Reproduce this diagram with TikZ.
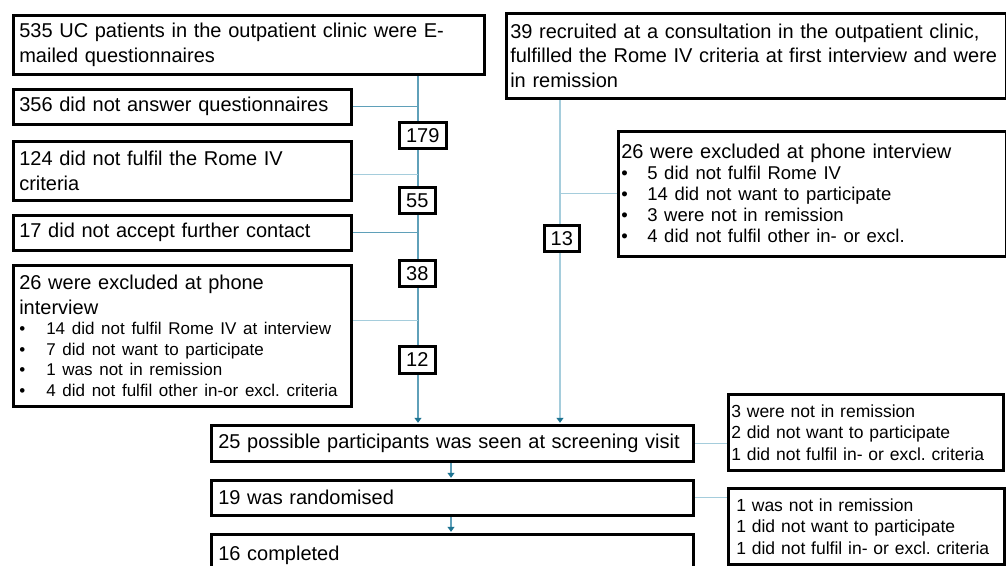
\documentclass[tikz,border=0pt]{standalone}
\usepackage{fontspec}
\setmainfont{Liberation Sans}
\frenchspacing
\usetikzlibrary{arrows.meta,backgrounds,calc}
\definecolor{trunkc}{RGB}{95,160,185}
\definecolor{lightc}{RGB}{165,205,220}
\definecolor{tipc}{RGB}{30,115,145}
\newcommand\bitem[2]{\makebox[#1][l]{\textbullet}#2}
\tikzset{
  box/.style={draw=black, line width=2.6pt, fill=white, anchor=north west,
    inner ysep=0pt, align=left, font=\fontsize{20}{24.5}\selectfont},
  numbox/.style={draw=black, line width=2.6pt, fill=white, anchor=north west,
    inner sep=0pt, font=\fontsize{20}{24}\selectfont},
  conn/.style={draw=trunkc, line width=1.3pt},
  lconn/.style={draw=lightc, line width=1.3pt},
  arr/.style={-{Triangle[width=7pt,length=5pt,color=tipc]}, shorten >=1.2pt}
}
\begin{document}
\begin{tikzpicture}[x=1pt,y=-1pt]
\useasboundingbox (0,0) rectangle (1006,565);
% left column
\node[box, minimum width=471pt, minimum height=59pt, text width=459pt, inner xsep=6pt] (A) at (12,14)
  {535 UC patients in the outpatient clinic were E-\\mailed questionnaires};
\node[box, minimum width=338pt, minimum height=35pt, text width=326pt, inner xsep=6pt] (B) at (12,88)
  {356 did not answer questionnaires};
\node[box, minimum width=338pt, minimum height=59pt, text width=326pt, inner xsep=6pt] (C) at (12,140)
  {124 did not fulfil the Rome IV\\criteria};
\node[box, minimum width=338pt, minimum height=35pt, text width=326pt, inner xsep=6pt] (D) at (12,214)
  {17 did not accept further contact};
\node[box, minimum width=338pt, minimum height=141pt, text width=326pt, inner xsep=6pt] (E) at (12,264)
  {{26 were excluded at phone\\interview\par}
   {\fontsize{17}{20.5}\selectfont
    \bitem{27pt}{14 did not fulfil Rome IV at interview}\\
    \bitem{27pt}{7 did not want to participate}\\
    \bitem{27pt}{1 was not in remission}\\
    \bitem{27pt}{4 did not fulfil other in-or excl. criteria}\par}};
% right column
\node[box, minimum width=500pt, minimum height=85pt, text width=492pt, inner xsep=4pt] (F) at (505,12)
  {39 recruited at a consultation in the outpatient clinic,\\fulfilled the Rome IV criteria at first interview and were\\in remission};
\node[box, minimum width=388pt, minimum height=125pt, text width=382pt, inner xsep=3pt] (G) at (617,130)
  {{26 were excluded at phone interview\par}
   {\fontsize{18.5}{21}\selectfont
    \bitem{26pt}{5 did not fulfil Rome IV}\\
    \bitem{26pt}{14 did not want to participate}\\
    \bitem{26pt}{3 were not in remission}\\
    \bitem{26pt}{4 did not fulfil other in- or excl.}\par}};
% bottom
\node[box, minimum width=482pt, minimum height=36pt, text width=468pt, inner xsep=7pt] (H) at (210,424)
  {25 possible participants was seen at screening visit};
\node[box, minimum width=482pt, minimum height=35pt, text width=468pt, inner xsep=7pt] (I) at (210,479)
  {19 was randomised};
\node[box, minimum width=482pt, minimum height=42pt, text width=468pt, inner xsep=7pt] (J) at (210,533)
  {16 completed};
\node[box, minimum width=275pt, minimum height=76pt, text width=269pt, inner xsep=3pt,
  font=\fontsize{17.5}{21.5}\selectfont] (L) at (727,393)
  {3 were not in remission\\2 did not want to participate\\1 did not fulfil in- or excl. criteria};
\node[box, minimum width=276pt, minimum height=76pt, text width=260pt, inner xsep=8pt,
  font=\fontsize{17.5}{21.5}\selectfont] (K) at (727,487)
  {1 was not in remission\\1 did not want to participate\\1 did not fulfil in- or excl. criteria};
% number boxes
\node[numbox, minimum width=47pt, minimum height=26pt] (n179) at (398,121) {179};
\node[numbox, minimum width=36pt, minimum height=26pt] (n55) at (398,186) {55};
\node[numbox, minimum width=36pt, minimum height=26pt] (n38) at (398,259) {38};
\node[numbox, minimum width=36pt, minimum height=27pt] (n12) at (398,345) {12};
\node[numbox, minimum width=35pt, minimum height=26pt] (n13) at (543,224) {13};
% connectors
\coordinate (tx) at (418,0);
\coordinate (rx) at (560,0);
\coordinate (mx) at (451,0);
\begin{pgfonlayer}{background}
  \draw[conn, arr] (A.south -| tx) -- (H.north -| tx);
  \draw[lconn, arr] (F.south -| rx) -- (H.north -| rx);
  \draw[conn] (B.east) -- (B.east -| tx);
  \coordinate (c1) at ($(C.east)+(0,4)$);
  \draw[lconn] (c1) -- (c1 -| tx);
  \draw[conn] (D.east) -- (D.east -| tx);
  \coordinate (e1) at ($(E.east)+(0,-15)$);
  \draw[lconn] (e1) -- (e1 -| tx);
  \draw[lconn] (G.west) -- (G.west -| rx);
  \draw[conn, arr] (H.south -| mx) -- (I.north -| mx);
  \draw[conn, arr] (I.south -| mx) -- (J.north -| mx);
  \draw[lconn] (H.east) -- (H.east -| L.west);
  \draw[lconn] (I.east) -- (I.east -| K.west);
\end{pgfonlayer}
\end{tikzpicture}
\end{document}
